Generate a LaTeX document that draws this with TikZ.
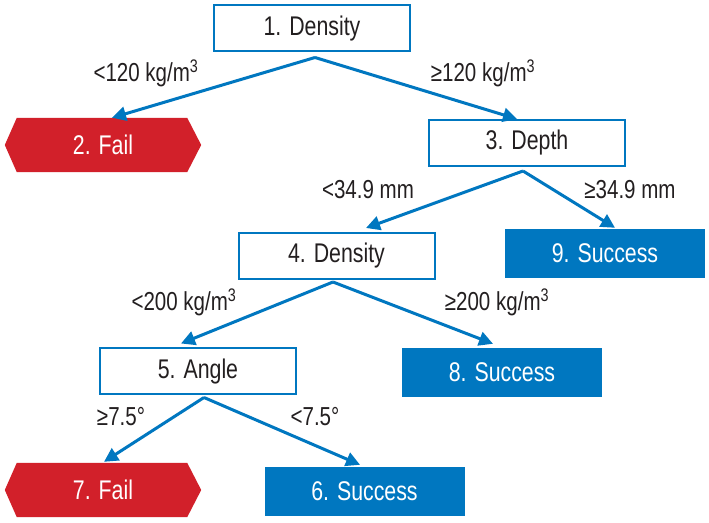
\documentclass[tikz,border=0pt]{standalone}
\usepackage{fontspec}
\setmainfont{Liberation Sans}[FakeStretch=0.79]
\usetikzlibrary{arrows.meta,calc,backgrounds}
\definecolor{tblue}{RGB}{0,119,192}
\definecolor{tred}{RGB}{210,32,42}
\definecolor{ttext}{RGB}{35,31,32}
\begin{document}
\begin{tikzpicture}[x=1pt,y=1pt,
  qbox/.style={draw=tblue,line width=2pt,fill=white,minimum width=196pt,minimum height=46pt,inner sep=0pt,font=\fontsize{27}{27}\selectfont,text=ttext},
  okbox/.style={fill=tblue,minimum width=200pt,minimum height=49pt,inner sep=0pt,font=\fontsize{27}{27}\selectfont,text=white},
  failbox/.style={minimum width=196pt,minimum height=54pt,inner sep=0pt,font=\fontsize{27}{27}\selectfont,text=white},
  lbl/.style={font=\fontsize{26}{26}\selectfont,text=ttext,inner sep=0pt},
  arr/.style={draw=tblue,line width=3pt,-{Triangle[length=14pt,width=14pt]}}]
\useasboundingbox (0,0) rectangle (709,522);
% nodes
\node[qbox] (n1) at (312,493.5) {1. Density};
\node[failbox] (n2) at (103,377) {2. Fail};
\node[qbox] (n3) at (527,379) {3. Depth};
\node[qbox] (n4) at (336.5,266) {4. Density};
\node[okbox] (n9) at (605,268.5) {9. Success};
\node[qbox] (n5) at (198,150.5) {5. Angle};
\node[okbox] (n8) at (502,149.5) {8. Success};
\node[failbox] (n7) at (103,32) {7. Fail};
\node[okbox] (n6) at (364.5,30.5) {6. Success};
\begin{scope}[on background layer]
\fill[white] (0,0) rectangle (709,522);
\foreach \n in {n2,n7}{
  \fill[tred] (\n.west) -- ($(\n.north west)+(12,0)$) -- ($(\n.north east)+(-14,0)$) -- (\n.east)
    -- ($(\n.south east)+(-14,0)$) -- ($(\n.south west)+(12,0)$) -- cycle;
}
\end{scope}
% start points
\coordinate (s1) at ($(n1.south)+(3,-5)$);
\coordinate (s3) at ($(n3.south)+(-4,-4)$);
\coordinate (s4) at ($(n4.south)+(-3.5,-2)$);
\coordinate (s5) at ($(n5.south)+(6,-2)$);
% connectors
\draw[arr] (s1) -- ($(n2.north)+(9,0)$);
\draw[arr] (s1) -- ($(n3.north)+(-10,0)$);
\draw[arr] (s3) -- ($(n4.north)+(29.5,4)$);
\draw[arr] (s3) -- ($(n9.north)+(10,1)$);
\draw[arr] (s4) -- ($(n5.north)+(-17,4)$);
\draw[arr] (s4) -- ($(n8.north)+(-9,4)$);
\draw[arr] (s5) -- ($(n7.north)+(1,1)$);
\draw[arr] (s5) -- ($(n6.north)+(-4.5,2)$);
% labels
\node[lbl] (l1) at (146,449) {<120 kg/m\textsuperscript{3}};
\node[lbl] (l2) at (483,449) {≥120 kg/m\textsuperscript{3}};
\node[lbl] (l3) at (368,332) {<34.9 mm};
\node[lbl] (l4) at (630,332) {≥34.9 mm};
\node[lbl] (l5) at (184,220) {<200 kg/m\textsuperscript{3}};
\node[lbl] (l6) at (497,220) {≥200 kg/m\textsuperscript{3}};
\node[lbl] (l7) at (121,105) {≥7.5°};
\node[lbl] (l8) at (315,105) {<7.5°};
\end{tikzpicture}
\end{document}
